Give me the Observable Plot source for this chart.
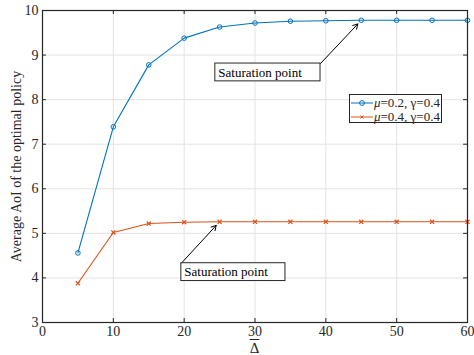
<!DOCTYPE html>
<html><head><meta charset="utf-8">
<script src="https://cdn.jsdelivr.net/npm/d3@7"></script>
<script src="https://cdn.jsdelivr.net/npm/@observablehq/plot@0.6"></script>
<style>
body{margin:0;background:#fff;}
#wrap{position:relative;width:474px;height:355px;font-family:"Liberation Serif","Times New Roman","DejaVu Serif",serif;}
#wrap svg text{font-family:"Liberation Serif","Times New Roman","DejaVu Serif",serif !important;}
#legend{position:absolute;left:349px;top:94px;width:93px;height:29px;border:1px solid #262626;background:#fff;font-size:13px;color:#262626;line-height:14px;padding-top:1px;box-sizing:border-box;}
#legend .row{display:flex;align-items:center;height:14px;white-space:nowrap;}
#legend svg{margin-left:1px;margin-right:1px;}
#xlab{position:absolute;left:0;width:474px;padding-left:42px;padding-right:7px;box-sizing:border-box;text-align:center;top:341px;font-size:15px;line-height:14px;color:#262626;}
#xlab span{text-decoration:overline;}
</style></head>
<body><div id="wrap"></div>
<script>
const deltaBar = [5,10,15,20,25,30,35,40,45,50,55,60];
const aoiMu02 = [4.56,7.39,8.78,9.38,9.63,9.72,9.76,9.77,9.78,9.78,9.78,9.78];
const aoiMu04 = [3.88,5.02,5.22,5.25,5.26,5.26,5.26,5.26,5.26,5.26,5.26,5.26];
const seriesNames = ["μ=0.2, γ=0.4","μ=0.4, γ=0.4"];
const xTicks = [0,10,20,30,40,50,60];
const yTicks = [3,4,5,6,7,8,9,10];
const xLabel = "Δ";
const yLabel = "Average AoI of the optimal policy";
const annotLabel = ["Saturation point","Saturation point"];
const annotTargetX = [45,25];
const annotTargetY = [9.78,5.26];
const annotBoxX1 = [24.4,19.6];
const annotBoxX2 = [39.25,34.3];
const annotBoxY1 = [8.41,3.93];
const annotBoxY2 = [8.81,4.33];

const FONT = "Liberation Serif";
const blue = "#0072BD", orange = "#D95319", ink = "#262626";
const s1 = deltaBar.map((d,i)=>({x:d,y:aoiMu02[i]}));
const s2 = deltaBar.map((d,i)=>({x:d,y:aoiMu04[i]}));
const ann = annotLabel.map((t,i)=>({t,tx:annotTargetX[i],ty:annotTargetY[i],x1:annotBoxX1[i],x2:annotBoxX2[i],y1:annotBoxY1[i],y2:annotBoxY2[i]}));

const chart = Plot.plot({
  width:474,height:355,
  marginLeft:42,marginRight:7,marginTop:10,marginBottom:33,
  style:{fontFamily:FONT,fontSize:"14px",color:ink,background:"#fff"},
  x:{domain:[0,60]},
  y:{domain:[3,10]},
  marks:[
    Plot.ruleX(xTicks,{stroke:"#e3e3e3",strokeWidth:1}),
    Plot.ruleY(yTicks,{stroke:"#e3e3e3",strokeWidth:1}),
    Plot.ruleX(xTicks,{y1:3,y2:3.09,stroke:ink}),
    Plot.ruleX(xTicks,{y1:9.91,y2:10,stroke:ink}),
    Plot.ruleY(yTicks,{x1:0,x2:0.55,stroke:ink}),
    Plot.ruleY(yTicks,{x1:59.45,x2:60,stroke:ink}),
    Plot.line(s1,{x:"x",y:"y",stroke:blue,strokeWidth:1.1}),
    Plot.dot(s1,{x:"x",y:"y",stroke:blue,r:2.3,strokeWidth:1,fill:"none"}),
    Plot.line(s2,{x:"x",y:"y",stroke:orange,strokeWidth:1.1}),
    Plot.dot(s2,{x:"x",y:"y",stroke:orange,symbol:"times",r:2,strokeWidth:1.2}),
    Plot.arrow(ann,{x1:"x2",y1:"y2",x2:"tx",y2:"ty",stroke:"#000",strokeWidth:1,headLength:8,insetEnd:5,filter:(d,i)=>i===0}),
    Plot.arrow(ann,{x1:"x1",y1:"y2",x2:"tx",y2:"ty",stroke:"#000",strokeWidth:1,headLength:8,insetEnd:5,filter:(d,i)=>i===1}),
    Plot.rect(ann,{x1:"x1",x2:"x2",y1:"y1",y2:"y2",fill:"#fff",stroke:ink,strokeWidth:1}),
    Plot.text(ann,{x:"x1",y:d=>(d.y1+d.y2)/2,text:"t",textAnchor:"start",dx:3,fontSize:13,fontFamily:FONT,fill:"#000"}),
    Plot.frame({stroke:ink,strokeWidth:1.2}),
    Plot.axisX(xTicks,{tickSize:0,tickPadding:4,label:null,fill:ink,fontFamily:FONT,fontSize:14}),
    Plot.axisY(yTicks,{tickSize:0,tickPadding:4,label:null,fill:ink,fontFamily:FONT,fontSize:14}),
    Plot.text([yLabel],{frameAnchor:"left",textAnchor:"middle",rotate:-90,dx:-26,fontSize:14,fontFamily:FONT,fill:ink})
  ]
});
const wrap = document.getElementById("wrap");
wrap.appendChild(chart);
const xl = document.createElement("div");
xl.id="xlab"; xl.innerHTML=`<span>${xLabel}</span>`;
wrap.appendChild(xl);
const leg = document.createElement("div");
leg.id="legend";
const specs=[{c:blue,m:"circle"},{c:orange,m:"x"}];
seriesNames.forEach((name,i)=>{
  const row=document.createElement("div");row.className="row";
  const sp=specs[i];
  const mk = sp.m==="circle"
    ? `<circle cx="11" cy="5" r="2.4" fill="none" stroke="${sp.c}"/>`
    : `<path d="M9.5,3.5L12.5,6.5M12.5,3.5L9.5,6.5" stroke="${sp.c}"/>`;
  row.innerHTML=`<svg width="22" height="10"><line x1="0" x2="22" y1="5" y2="5" stroke="${sp.c}"/>${mk}</svg><span>${name.replace("μ","<i>μ</i>")}</span>`;
  leg.appendChild(row);
});
wrap.appendChild(leg);
</script></body></html>
